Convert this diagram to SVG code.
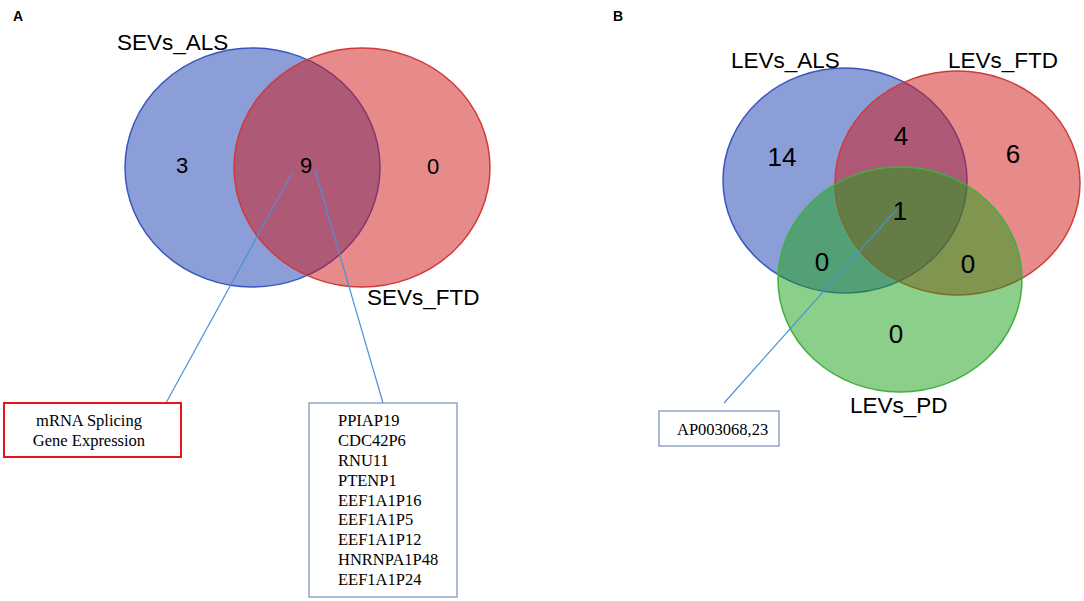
<svg xmlns="http://www.w3.org/2000/svg" width="1084" height="601" viewBox="0 0 1084 601">
<style>
.panel{font-family:"Liberation Sans",Arial,sans-serif;font-weight:bold;font-size:14px;fill:#000}
.lab{font-family:"Liberation Sans",Arial,sans-serif;font-size:22.5px;fill:#000}
.numA{font-family:"Liberation Sans",Arial,sans-serif;font-size:22px;fill:#000;text-anchor:middle}
.numB{font-family:"Liberation Sans",Arial,sans-serif;font-size:26px;fill:#000;text-anchor:middle}
.box{font-family:"Liberation Serif","Times New Roman",serif;font-size:16.5px;fill:#000}
.blue{fill:#193daf;fill-opacity:0.5;stroke:#3b55c0;stroke-width:1.5}
.red{fill:#cf1515;fill-opacity:0.5;stroke:#d03a3a;stroke-width:1.5}
.green{fill:#199f15;fill-opacity:0.5;stroke:#40b040;stroke-width:1.5}
.conn{stroke:#4a90d9;stroke-width:1.2;fill:none}
</style>
<rect width="1084" height="601" fill="#fff"/>
<text class="panel" x="13" y="21">A</text>
<text class="panel" x="613" y="21">B</text>
<g id="venn-A">
<ellipse id="sevs-als" class="blue" cx="252.5" cy="167.5" rx="127.5" ry="119.5"/>
<ellipse id="sevs-ftd" class="red" cx="362" cy="167.5" rx="128" ry="119.5"/>
<text class="lab" x="117" y="50">SEVs_ALS</text>
<text class="lab" x="367" y="305">SEVs_FTD</text>
<text class="numA" x="182" y="173">3</text>
<text class="numA" x="306" y="173">9</text>
<text class="numA" x="433" y="174">0</text>
</g>
<g id="venn-B">
<ellipse id="levs-als" class="blue" cx="845" cy="180.5" rx="122" ry="112.5"/>
<ellipse id="levs-ftd" class="red" cx="957.5" cy="183" rx="122.5" ry="112"/>
<ellipse id="levs-pd" class="green" cx="900" cy="279.5" rx="122" ry="112.5"/>
<text class="lab" x="731" y="68">LEVs_ALS</text>
<text class="lab" x="948" y="68">LEVs_FTD</text>
<text class="lab" x="850" y="413">LEVs_PD</text>
<text class="numB" x="782" y="166">14</text>
<text class="numB" x="901" y="145">4</text>
<text class="numB" x="1013" y="163">6</text>
<text class="numB" x="900" y="220">1</text>
<text class="numB" x="822" y="271">0</text>
<text class="numB" x="968" y="273">0</text>
<text class="numB" x="896" y="343">0</text>
</g>
<g id="connectors">
<line class="conn" x1="292" y1="173" x2="166" y2="403"/>
<line class="conn" x1="315" y1="170" x2="383" y2="403"/>
<line class="conn" x1="897" y1="209" x2="724" y2="403"/>
</g>
<g id="box-splicing">
<rect x="4" y="403" width="177" height="54" fill="#fff" stroke="#e8141c" stroke-width="2"/>
<text class="box" x="89" y="426" text-anchor="middle">mRNA Splicing</text>
<text class="box" x="89" y="446" text-anchor="middle">Gene Expression</text>
</g>
<g id="box-genes">
<rect x="309" y="403" width="148" height="194" fill="#fff" stroke="#8096bf" stroke-width="1.3"/>
<text class="box" x="338" y="426">PPIAP19</text>
<text class="box" x="338" y="446">CDC42P6</text>
<text class="box" x="338" y="466">RNU11</text>
<text class="box" x="338" y="486">PTENP1</text>
<text class="box" x="338" y="506">EEF1A1P16</text>
<text class="box" x="338" y="525">EEF1A1P5</text>
<text class="box" x="338" y="545">EEF1A1P12</text>
<text class="box" x="338" y="565">HNRNPA1P48</text>
<text class="box" x="338" y="585">EEF1A1P24</text>
</g>
<g id="box-ap">
<rect x="659" y="411" width="120" height="35" fill="#fff" stroke="#8096bf" stroke-width="1.3"/>
<text class="box" x="677" y="435">AP003068,23</text>
</g>
</svg>
